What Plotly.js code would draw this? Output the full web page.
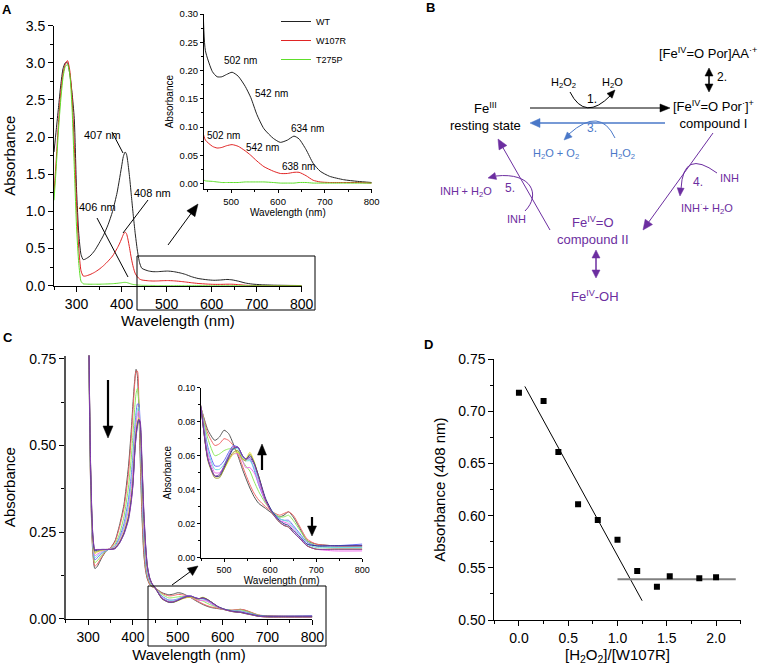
<!DOCTYPE html>
<html><head><meta charset="utf-8">
<script src="https://cdn.plot.ly/plotly-3.0.1.min.js"></script>
<style>html,body{margin:0;padding:0;background:#fff}#chart{width:759px;height:672px}</style>
</head><body><div id="chart"></div>
<script>
// ---------- Panel A data ----------
const wlA = [250,255,260,265,270,275,280,285,290,295,300,305,310,315,320,330,340,350,360,370,380,390,395,400,404,408,411,414,418,422,426,430,435,440,445,460,470,480,490,502,515,530,542,555,570,590,605,620,634,645,660,675,690,710,740,770,800];
const absWT = [1.8,2.1,2.4,2.7,2.92,3.0,3.0,2.85,2.6,2.25,1.3,0.7,0.42,0.35,0.36,0.40,0.47,0.57,0.68,0.82,1.0,1.25,1.42,1.6,1.74,1.80,1.77,1.66,1.45,1.2,0.95,0.72,0.48,0.31,0.235,0.198,0.189,0.189,0.193,0.197,0.19,0.172,0.152,0.122,0.097,0.08,0.073,0.077,0.084,0.079,0.06,0.036,0.022,0.013,0.007,0.004,0.002];
const absW107R = [1.25,1.7,2.2,2.6,2.85,2.98,3.03,2.9,2.55,1.9,1.1,0.5,0.2,0.13,0.13,0.15,0.18,0.22,0.27,0.33,0.40,0.50,0.56,0.63,0.69,0.72,0.70,0.63,0.50,0.36,0.25,0.17,0.12,0.09,0.077,0.066,0.063,0.064,0.067,0.069,0.066,0.058,0.05,0.04,0.03,0.022,0.018,0.018,0.02,0.02,0.014,0.006,0.003,0.002,0.002,0.002,0.001];
const absT275P = [1.15,1.6,2.1,2.5,2.8,2.95,2.98,2.85,2.4,1.6,0.8,0.3,0.06,0.025,0.022,0.02,0.02,0.02,0.022,0.024,0.027,0.032,0.036,0.04,0.044,0.045,0.043,0.038,0.03,0.022,0.016,0.012,0.009,0.007,0.005,0.004,0.003,0.002,0.002,0.002,0.002,0.003,0.003,0.003,0.003,0.002,0.001,0.001,0.001,0.002,0.002,0.001,0.001,0.001,0.001,0.001,0.001];
const namesA = ['WT','W107R','T275P'];

// ---------- Panel C data (H2O2 titration of W107R) ----------
const wlC = [300,305,310,315,320,330,340,350,360,370,380,390,396,400,404,407,410,413,416,420,424,428,432,437,442,450,465,480,490,500,510,520,530,540,547,556,565,575,590,605,620,630,640,650,665,680,700,740,800];
const scan1 = [1.0,0.42,0.2,0.145,0.15,0.175,0.195,0.205,0.225,0.27,0.33,0.44,0.54,0.62,0.69,0.72,0.70,0.61,0.47,0.30,0.19,0.14,0.115,0.10,0.093,0.088,0.075,0.069,0.071,0.075,0.073,0.067,0.060,0.052,0.047,0.041,0.036,0.032,0.029,0.026,0.024,0.025,0.027,0.024,0.017,0.010,0.008,0.007,0.007];
const scan2 = [1.0,0.43,0.21,0.152,0.157,0.178,0.196,0.205,0.222,0.264,0.32,0.42,0.52,0.60,0.68,0.715,0.715,0.64,0.50,0.32,0.20,0.145,0.118,0.10,0.093,0.088,0.073,0.066,0.067,0.070,0.069,0.066,0.061,0.054,0.049,0.043,0.038,0.034,0.030,0.027,0.025,0.026,0.027,0.025,0.018,0.011,0.008,0.007,0.007];
const scan3 = [1.0,0.44,0.22,0.162,0.167,0.183,0.196,0.203,0.215,0.245,0.295,0.38,0.46,0.53,0.61,0.65,0.665,0.63,0.53,0.36,0.23,0.16,0.125,0.105,0.095,0.088,0.070,0.060,0.061,0.063,0.064,0.064,0.062,0.057,0.054,0.051,0.045,0.039,0.032,0.027,0.024,0.024,0.025,0.022,0.016,0.010,0.007,0.006,0.006];
const scan4 = [1.0,0.45,0.225,0.17,0.175,0.188,0.197,0.202,0.21,0.235,0.275,0.345,0.41,0.47,0.55,0.595,0.62,0.62,0.55,0.39,0.25,0.17,0.13,0.108,0.097,0.088,0.065,0.054,0.054,0.057,0.062,0.066,0.065,0.060,0.058,0.058,0.052,0.043,0.033,0.027,0.023,0.022,0.022,0.019,0.014,0.009,0.007,0.007,0.008];
const scan5 = [1.0,0.45,0.23,0.176,0.181,0.191,0.198,0.202,0.208,0.23,0.265,0.33,0.39,0.45,0.53,0.575,0.605,0.61,0.56,0.40,0.26,0.18,0.135,0.11,0.098,0.088,0.063,0.052,0.052,0.055,0.060,0.064,0.064,0.059,0.057,0.057,0.053,0.045,0.034,0.027,0.023,0.022,0.021,0.018,0.013,0.008,0.006,0.006,0.006];
const scan6 = [1.0,0.46,0.235,0.182,0.186,0.194,0.199,0.202,0.207,0.226,0.258,0.315,0.37,0.43,0.51,0.56,0.59,0.60,0.565,0.42,0.275,0.19,0.14,0.113,0.10,0.088,0.061,0.050,0.050,0.053,0.058,0.061,0.061,0.057,0.053,0.053,0.050,0.044,0.033,0.026,0.022,0.021,0.020,0.017,0.012,0.007,0.005,0.004,0.004];
const scan7 = [1.0,0.46,0.24,0.188,0.192,0.197,0.2,0.2,0.205,0.222,0.25,0.30,0.35,0.40,0.49,0.54,0.57,0.58,0.56,0.44,0.30,0.205,0.148,0.117,0.101,0.088,0.058,0.048,0.048,0.052,0.057,0.061,0.062,0.058,0.058,0.062,0.057,0.048,0.034,0.026,0.021,0.019,0.018,0.015,0.011,0.007,0.005,0.005,0.005];
const scan8 = [1.0,0.47,0.245,0.192,0.195,0.198,0.2,0.2,0.204,0.22,0.248,0.295,0.345,0.395,0.485,0.535,0.565,0.575,0.56,0.445,0.305,0.21,0.15,0.118,0.102,0.088,0.057,0.047,0.047,0.052,0.058,0.062,0.063,0.058,0.057,0.061,0.056,0.048,0.034,0.026,0.021,0.019,0.018,0.015,0.011,0.007,0.005,0.005,0.005];
const scan9 = [1.0,0.47,0.25,0.196,0.198,0.2,0.2,0.2,0.203,0.219,0.246,0.29,0.34,0.39,0.48,0.53,0.56,0.575,0.565,0.45,0.31,0.215,0.152,0.119,0.102,0.088,0.058,0.048,0.048,0.053,0.059,0.064,0.065,0.060,0.058,0.060,0.056,0.048,0.035,0.027,0.022,0.020,0.019,0.016,0.012,0.008,0.007,0.007,0.007];
const scan10 = [1.0,0.48,0.255,0.2,0.2,0.2,0.2,0.2,0.202,0.218,0.244,0.285,0.335,0.385,0.475,0.525,0.555,0.575,0.57,0.46,0.32,0.22,0.155,0.12,0.103,0.088,0.058,0.048,0.049,0.054,0.060,0.065,0.065,0.060,0.058,0.059,0.055,0.047,0.034,0.026,0.021,0.019,0.018,0.015,0.011,0.007,0.005,0.005,0.005];
const scansC = [scan1,scan2,scan3,scan4,scan5,scan6,scan7,scan8,scan9,scan10];
const colorsC = ['#555555','#f06868','#8fe860','#6a6af5','#70dede','#ee70ee','#e0e040','#a0a030','#303090','#8a3cb0'];

// ---------- Panel D data ----------
const ratioD = [0,0.25,0.4,0.6,0.8,1.0,1.2,1.4,1.53,1.83,2.0];
const abs408 = [0.718,0.710,0.661,0.611,0.596,0.577,0.547,0.532,0.542,0.540,0.541];
const fitX = [0.06,1.25];
const fitY = [0.724,0.5185];
const plateauX = [1.0,2.2];
const plateauY = [0.539,0.539];

// ---------- helpers ----------
const W = 759, H = 672;
const FONT = 'Liberation Sans, Arial, sans-serif';
const P = x => x / W;
const Q = y => 1 - y / H;
const PURPLE = '#6c2ea0', BLUE = '#4a78c8';

function T(x, y, text, size, color, extra) {
  return Object.assign({xref:'paper', yref:'paper', x:P(x), y:Q(y), text:text, showarrow:false,
    font:{family:FONT, size:size, color:color||'#000'}, xanchor:'center', yanchor:'middle'}, extra||{});
}
function L(x0,y0,x1,y1,color,w){
  return {type:'line', xref:'paper', yref:'paper', x0:P(x0), y0:Q(y0), x1:P(x1), y1:Q(y1), line:{color:color, width:w}};
}
function head(tx,ty,fx,fy,len,hw,color){
  const dx=tx-fx, dy=ty-fy, n=Math.hypot(dx,dy), ux=dx/n, uy=dy/n;
  const bx=tx-ux*len, by=ty-uy*len;
  const p1=[bx-uy*hw, by+ux*hw], p2=[bx+uy*hw, by-ux*hw];
  return {type:'path', xref:'paper', yref:'paper',
    path:`M${P(tx)},${Q(ty)} L${P(p1[0])},${Q(p1[1])} L${P(p2[0])},${Q(p2[1])} Z`,
    fillcolor:color, line:{color:color, width:0.5}};
}
function arrow(x0,y0,x1,y1,color,w,len,hw){
  const dx=x1-x0, dy=y1-y0, n=Math.hypot(dx,dy);
  const ex=x1-dx/n*len*0.8, ey=y1-dy/n*len*0.8;
  return [L(x0,y0,ex,ey,color,w), head(x1,y1,x0,y0,len,hw,color)];
}
function dbl(x,y0,y1,color,w,len,hw){
  return [L(x,y0+len*0.8,x,y1-len*0.8,color,w), head(x,y0,x,y1,len,hw,color), head(x,y1,x,y0,len,hw,color)];
}
function quad(x0,y0,cx,cy,x1,y1,color,w){
  return {type:'path', xref:'paper', yref:'paper', path:`M${P(x0)},${Q(y0)} Q${P(cx)},${Q(cy)} ${P(x1)},${Q(y1)}`, line:{color:color,width:w}};
}
function cubic(x0,y0,c1x,c1y,c2x,c2y,x1,y1,color,w){
  return {type:'path', xref:'paper', yref:'paper', path:`M${P(x0)},${Q(y0)} C${P(c1x)},${Q(c1y)} ${P(c2x)},${Q(c2y)} ${P(x1)},${Q(y1)}`, line:{color:color,width:w}};
}
function rect(x0,y0,x1,y1){
  return {type:'rect', xref:'paper', yref:'paper', x0:P(x0), y0:Q(y1), x1:P(x1), y1:Q(y0), line:{color:'#000',width:1}, fillcolor:'rgba(0,0,0,0)'};
}
function dom(a,b){return [a/W, b/W];}
function domY(top,bottom){return [1-bottom/H, 1-top/H];}

function axis(extra){
  return Object.assign({showline:true, linecolor:'#000', linewidth:1, showgrid:false, zeroline:false,
    ticks:'outside', ticklen:5, tickwidth:1, tickcolor:'#000', mirror:false, fixedrange:true,
    tickfont:{family:FONT, size:14, color:'#000'}}, extra);
}

// ---------- traces ----------
const traces = [];
const colA = ['#222222','#e02424','#5ede2a'];
const seriesA = [absWT, absW107R, absT275P];
seriesA.forEach((s,i)=>{
  traces.push({x:wlA, y:s, type:'scatter', mode:'lines', name:namesA[i], xaxis:'x', yaxis:'y',
    line:{color:colA[i], width:1, shape:'spline', smoothing:0.6}, showlegend:true, legendgroup:namesA[i]});
});
seriesA.forEach((s,i)=>{
  traces.push({x:wlA, y:s, type:'scatter', mode:'lines', name:namesA[i], xaxis:'x2', yaxis:'y2',
    line:{color:colA[i], width:1, shape:'spline', smoothing:0.6}, showlegend:false, legendgroup:namesA[i]});
});
scansC.forEach((s,i)=>{
  traces.push({x:wlC, y:s, type:'scatter', mode:'lines', name:'scan '+(i+1), xaxis:'x3', yaxis:'y3',
    line:{color:colorsC[i], width:1, shape:'spline', smoothing:0.6}, showlegend:false});
});
scansC.forEach((s,i)=>{
  traces.push({x:wlC, y:s, type:'scatter', mode:'lines', name:'scan '+(i+1), xaxis:'x4', yaxis:'y4',
    line:{color:colorsC[i], width:1, shape:'spline', smoothing:0.6}, showlegend:false});
});
traces.push({x:fitX, y:fitY, type:'scatter', mode:'lines', name:'linear fit', xaxis:'x5', yaxis:'y5',
  line:{color:'#000', width:1}, showlegend:false});
traces.push({x:plateauX, y:plateauY, type:'scatter', mode:'lines', name:'plateau', xaxis:'x5', yaxis:'y5',
  line:{color:'#808080', width:2}, showlegend:false});
traces.push({x:ratioD, y:abs408, type:'scatter', mode:'markers', name:'A408', xaxis:'x5', yaxis:'y5',
  marker:{symbol:'square', size:6, color:'#000'}, showlegend:false});

// ---------- shapes ----------
let shapes = [];
// Panel A leader lines, box, pointer arrow
shapes.push(L(112,132,123,153,'#000',1));
shapes.push(L(148,200,123,233,'#000',1));
shapes.push(L(97,218,128,277,'#000',1));
shapes.push(rect(137,256,315,310));
shapes = shapes.concat(arrow(168,245,198,204,'#000',1,12,5));
// Panel C arrows and box
shapes = shapes.concat(arrow(108,380,108,438,'#000',2.2,12,5));
shapes = shapes.concat(arrow(262,470,262,444,'#000',2.2,11,4.5));
shapes = shapes.concat(arrow(312,517,312,536,'#000',2.2,10,4.5));
shapes.push(rect(148,586,326,646));
shapes = shapes.concat(arrow(172,585,198,566,'#000',1,10,4.5));
// Panel B scheme
shapes = shapes.concat(dbl(709,68,92,'#000',1.5,8,4));
shapes = shapes.concat(arrow(530,108,670,108,'#000',1,10,4));
shapes.push(quad(570,92,585,122,611,95,'#000',1));
shapes.push(head(615,90,588,119,8,3.5,'#000'));
shapes = shapes.concat(arrow(665,123,530,123,BLUE,1.5,10,4.5));
shapes.push(quad(615,138,600,106,569,134,BLUE,1));
shapes.push(head(564,140,595,110,8,3.5,BLUE));
shapes = shapes.concat(arrow(713,133,643,230,PURPLE,1,10,4.5));
shapes.push(quad(717,173,683,148,681,189,PURPLE,1));
shapes.push(head(680,196,683,160,8,3.5,PURPLE));
shapes = shapes.concat(arrow(550,230,498,139,PURPLE,1,10,4.5));
shapes.push(cubic(525,211,541,195,532,172,496,176,PURPLE,1));
shapes.push(head(488,178,515,171,8,3.5,PURPLE));
shapes = shapes.concat(dbl(596,250,278,PURPLE,1.5,8,4));

// ---------- annotations ----------
const ann = [];
ann.push(T(7,10,'<b>A</b>',13,'#000'));
ann.push(T(430,8,'<b>B</b>',13,'#000'));
ann.push(T(8,337,'<b>C</b>',13,'#000'));
ann.push(T(429,345,'<b>D</b>',13,'#000'));
// Panel A labels
ann.push(T(102,135,'407 nm',11));
ann.push(T(152,193,'408 nm',11));
ann.push(T(97,207,'406 nm',11));
ann.push(T(240,60,'502 nm',10));
ann.push(T(271,93,'542 nm',10));
ann.push(T(307,128,'634 nm',10));
ann.push(T(223,135,'502 nm',10));
ann.push(T(262,147,'542 nm',10));
ann.push(T(298,166,'638 nm',10));
// Panel B labels
ann.push(T(708,53,'[Fe<sup>IV</sup>=O Por]AA<sup>·+</sup>',13));
ann.push(T(722,77,'2.',12));
ann.push(T(563,83,'H<sub>2</sub>O<sub>2</sub>',11));
ann.push(T(612,83,'H<sub>2</sub>O',11));
ann.push(T(592,99,'1.',12));
ann.push(T(485,117,'Fe<sup>III</sup><br>resting state',13));
ann.push(T(713,114,'[Fe<sup>IV</sup>=O Por<sup>·</sup>]<sup>+</sup><br>compound I',13));
ann.push(T(592,128,'3.',12,BLUE));
ann.push(T(556,154,'H<sub>2</sub>O + O<sub>2</sub>',11,BLUE));
ann.push(T(622,154,'H<sub>2</sub>O<sub>2</sub>',11,BLUE));
ann.push(T(698,182,'4.',12,PURPLE));
ann.push(T(729,178,'INH',11,PURPLE));
ann.push(T(707,208,'INH<sup>·</sup>+ H<sub>2</sub>O',11,PURPLE));
ann.push(T(593,230,'Fe<sup>IV</sup>=O<br>compound II',13,PURPLE));
ann.push(T(595,296,'Fe<sup>IV</sup>-OH',13,PURPLE));
ann.push(T(510,188,'5.',12,PURPLE));
ann.push(T(516,219,'INH',11,PURPLE));
ann.push(T(466,191,'INH<sup>·</sup>+ H<sub>2</sub>O',11,PURPLE));

// ---------- layout ----------
const layout = {
  width:W, height:H, autosize:false, margin:{l:0,r:0,t:0,b:0,pad:0},
  paper_bgcolor:'#fff', plot_bgcolor:'rgba(0,0,0,0)',
  font:{family:FONT, size:12, color:'#000'},
  showlegend:true,
  legend:{x:P(276), y:Q(7), xanchor:'left', yanchor:'top', bgcolor:'rgba(0,0,0,0)',
    font:{family:FONT, size:9, color:'#000'}, itemwidth:30, tracegroupgap:0},
  xaxis: axis({domain:dom(54,301.7), anchor:'y', range:[250,800], tick0:0, dtick:100,
    minor:{ticks:'outside', ticklen:3, dtick:50, tickcolor:'#000'},
    title:{text:'Wavelength (nm)', font:{family:FONT,size:15}, standoff:4}}),
  yaxis: axis({domain:domY(25.7,285.7), anchor:'x', range:[0,3.5], dtick:0.5, tickformat:'.1f',
    minor:{ticks:'outside', ticklen:3, dtick:0.25, tickcolor:'#000'},
    title:{text:'Absorbance', font:{family:FONT,size:15}, standoff:6}}),
  xaxis2: axis({domain:dom(204,371.7), anchor:'y2', range:[442,800], tick0:0, dtick:100,
    tickfont:{family:FONT,size:9.5}, ticklen:3,
    minor:{ticks:'outside', ticklen:2, dtick:50, tickcolor:'#000'},
    title:{text:'Wavelength (nm)', font:{family:FONT,size:10}, standoff:1}}),
  yaxis2: axis({domain:domY(14,189.3), anchor:'x2', range:[-0.01,0.30], tick0:0, dtick:0.05, tickformat:'.2f',
    tickfont:{family:FONT,size:9.5}, ticklen:3,
    minor:{ticks:'outside', ticklen:2, dtick:0.025, tickcolor:'#000'},
    title:{text:'Absorbance', font:{family:FONT,size:10}, standoff:4}}),
  xaxis3: axis({domain:dom(65.7,312.3), anchor:'y3', range:[250,800], tick0:0, dtick:100,
    tickfont:{family:FONT,size:14},
    minor:{ticks:'outside', ticklen:3, dtick:50, tickcolor:'#000'},
    title:{text:'Wavelength (nm)', font:{family:FONT,size:15}, standoff:5}}),
  yaxis3: axis({domain:domY(355.5,618.7), anchor:'x3', range:[0,0.76], tick0:0, dtick:0.25, tickformat:'.2f',
    linecolor:'#555', linewidth:1.5,
    minor:{ticks:'outside', ticklen:3, dtick:0.125, tickcolor:'#000'},
    title:{text:'Absorbance', font:{family:FONT,size:15}, standoff:10}}),
  xaxis4: axis({domain:dom(201,362.3), anchor:'y4', range:[450,800], tick0:0, dtick:100,
    tickfont:{family:FONT,size:9}, ticklen:3,
    minor:{ticks:'outside', ticklen:2, dtick:50, tickcolor:'#000'},
    title:{text:'Wavelength (nm)', font:{family:FONT,size:10}, standoff:1}}),
  yaxis4: axis({domain:domY(387.7,557.7), anchor:'x4', range:[0,0.10], tick0:0, dtick:0.02, tickformat:'.2f',
    tickfont:{family:FONT,size:9}, ticklen:3,
    minor:{ticks:'outside', ticklen:2, dtick:0.01, tickcolor:'#000'},
    title:{text:'Absorbance', font:{family:FONT,size:10}, standoff:4}}),
  xaxis5: axis({domain:dom(494.3,740.7), anchor:'y5', range:[-0.25,2.25], tick0:0, dtick:0.5, tickformat:'.1f',
    minor:{ticks:'outside', ticklen:3, dtick:0.25, tickcolor:'#000'},
    title:{text:'[H<sub>2</sub>O<sub>2</sub>]/[W107R]', font:{family:FONT,size:15}, standoff:3}}),
  yaxis5: axis({domain:domY(359.3,620), anchor:'x5', range:[0.5,0.75], tick0:0.5, dtick:0.05, tickformat:'.2f',
    minor:{ticks:'outside', ticklen:3, dtick:0.025, tickcolor:'#000'},
    title:{text:'Absorbance (408 nm)', font:{family:FONT,size:15}, standoff:8}}),
  shapes: shapes,
  annotations: ann
};

Plotly.newPlot('chart', traces, layout, {staticPlot:true, displayModeBar:false});
</script></body></html>
